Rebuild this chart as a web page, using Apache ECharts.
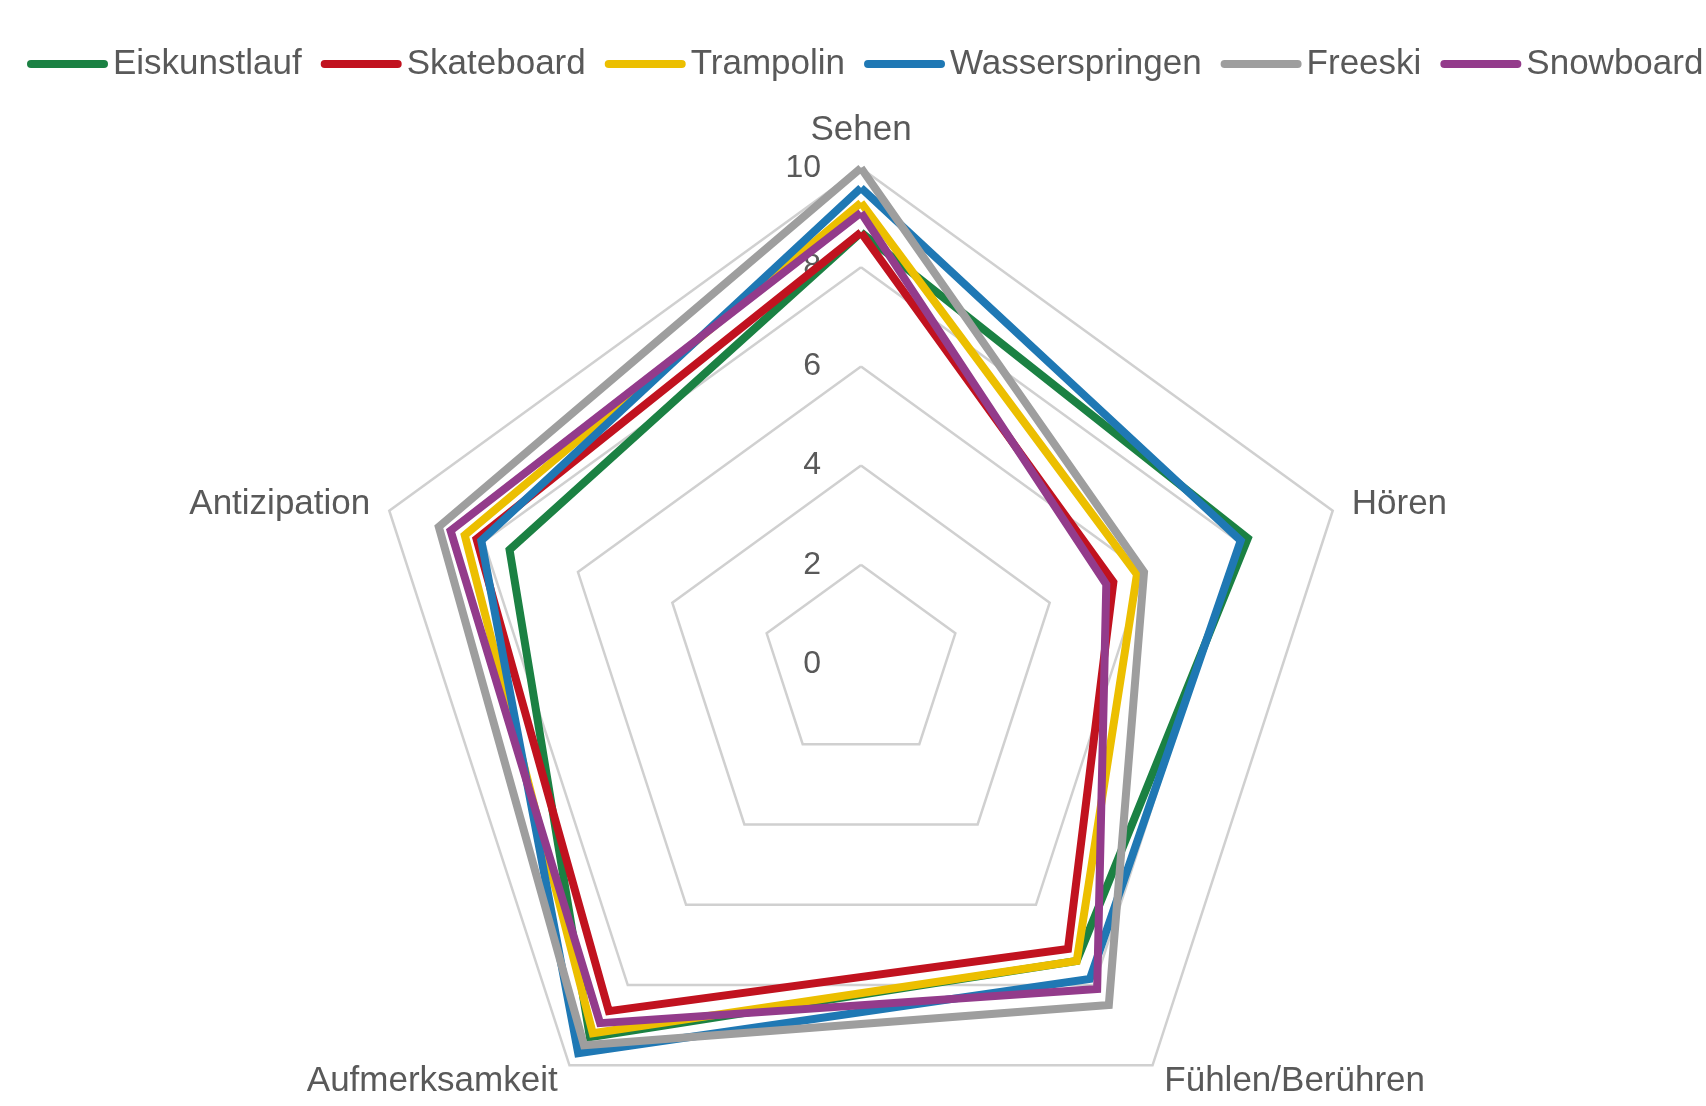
<!DOCTYPE html>
<html>
<head>
<meta charset="utf-8">
<script src="https://cdn.jsdelivr.net/npm/echarts@6/dist/echarts.min.js"></script>
<style>
html,body{margin:0;padding:0;background:#fff;}
#chart{width:1706px;height:1106px;}
</style>
</head>
<body>
<div id="chart"></div>
<script>
// Categories in clockwise reading order starting at the top
var categories = ['Sehen', 'Hören', 'Fühlen/Berühren', 'Aufmerksamkeit', 'Antizipation'];
var seriesNames = ['Eiskunstlauf', 'Skateboard', 'Trampolin', 'Wasserspringen', 'Freeski', 'Snowboard'];
var eiskunstlauf   = [8.7, 8.2, 7.4, 9.3, 7.45];
var skateboard     = [8.7, 5.35, 7.1, 8.65, 8.15];
var trampolin      = [9.3, 5.85, 7.4, 9.2, 8.4];
var wasserspringen = [9.6, 8.05, 7.85, 9.7, 8.05];
var freeski        = [10, 6.0, 8.5, 9.5, 8.95];
var snowboard      = [9.1, 5.2, 8.1, 8.95, 8.7];
var tickLabels = ['0', '2', '4', '6', '8', '10'];
var axisMin = 0, axisMax = 10;

var seriesValues = [eiskunstlauf, skateboard, trampolin, wasserspringen, freeski, snowboard];
var colors = ['#1b8143', '#c1121f', '#ecbf00', '#1f78b4', '#9e9e9e', '#933b8b'];

// ECharts places indicators counter-clockwise; reorder so they read clockwise
var order = [0, 4, 3, 2, 1];
var font = "'Liberation Sans', Arial, sans-serif";

var indicator = order.map(function (i, k) {
  var ind = { name: categories[i], min: axisMin, max: axisMax };
  if (k === 0) {
    ind.axisLabel = {
      show: true,
      margin: 40,
      color: '#595959',
      fontSize: 32,
      fontFamily: font,
      formatter: function (v) { var t = tickLabels[Math.round(v / 2)]; return t !== undefined ? t : String(v); }
    };
  }
  return ind;
});

var chart = echarts.init(document.getElementById('chart'), null, { renderer: 'canvas' });
chart.setOption({
  backgroundColor: '#ffffff',
  animation: false,
  color: colors,
  legend: {
    data: seriesNames,
    left: 27,
    top: 44,
    width: 1679,
    padding: 0,
    itemWidth: 81,
    itemHeight: 8,
    itemGap: 19,
    icon: 'path://M4 0H77A4 4 0 0 1 77 8H4A4 4 0 0 1 4 0Z',
    textStyle: { color: '#595959', fontSize: 35, fontFamily: font, lineHeight: 40 }
  },
  radar: {
    center: [861, 664],
    radius: 496,
    startAngle: 90,
    splitNumber: 5,
    shape: 'polygon',
    indicator: indicator,
    axisName: { color: '#595959', fontSize: 35, fontFamily: font },
    nameGap: 20,
    axisLine: { show: false },
    axisTick: { show: false },
    axisLabel: { show: false },
    splitArea: { show: false },
    splitLine: { lineStyle: { color: '#d0d0d0', width: 2.5 } }
  },
  series: [{
    type: 'radar',
    symbol: 'none',
    data: seriesValues.map(function (vals, s) {
      return {
        name: seriesNames[s],
        value: order.map(function (i) { return vals[i]; }),
        lineStyle: { color: colors[s], width: 8, join: 'miter' },
        itemStyle: { color: colors[s] }
      };
    })
  }]
});
</script>
</body>
</html>
